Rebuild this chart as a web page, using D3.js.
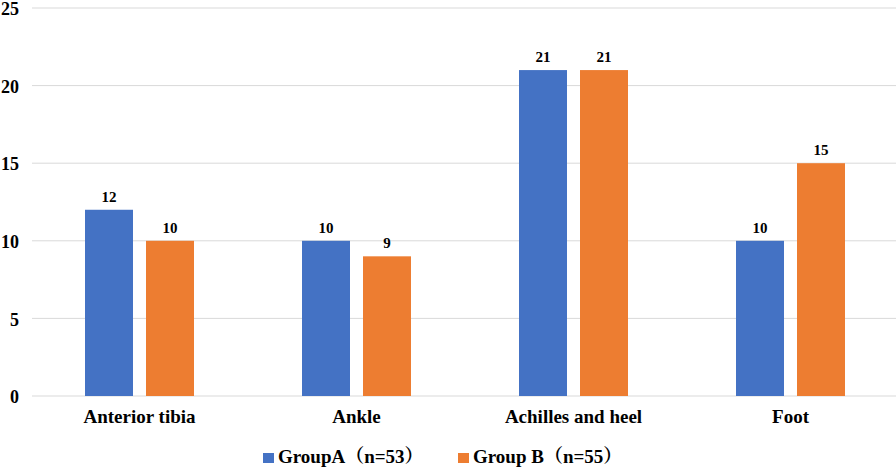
<!DOCTYPE html>
<html><head><meta charset="utf-8">
<script src="https://cdn.jsdelivr.net/npm/d3@7"></script>
<style>body{margin:0;background:#fff}svg{display:block}</style>
</head><body>
<svg id="c" width="896" height="469"></svg>
<script>
const categories = ["Anterior tibia", "Ankle", "Achilles and heel", "Foot"];
const seriesNames = ["GroupA（n=53）", "Group B（n=55）"];
const groupA = [12, 10, 21, 10];
const groupB = [10, 9, 21, 15];
const yTicks = [0, 5, 10, 15, 20, 25];
const colors = ["#4472C4", "#ED7D31"];

const font = "Liberation Serif, Noto Serif CJK SC, serif";
const svg = d3.select("#c");
const x = d3.scaleBand().domain(categories).range([31, 899]);
const y = d3.scaleLinear().domain([0, 25]).range([396, 8]);
const barW = 48, gap = 13;

svg.append("g").selectAll("line").data(yTicks).join("line")
  .attr("x1", 32).attr("x2", 896)
  .attr("y1", d => y(d)).attr("y2", d => y(d))
  .attr("stroke", "#d9d9d9").attr("stroke-width", 1);

svg.append("g").selectAll("text").data(yTicks).join("text")
  .attr("x", 19).attr("y", d => y(d)).attr("dy", "0.4em")
  .attr("text-anchor", "end").style("font-family", font).attr("font-weight", "bold")
  .attr("font-size", 18).text(d => d);

const series = [groupA, groupB];
series.forEach((vals, si) => {
  const g = svg.append("g");
  const off = d => x(d) + x.bandwidth() / 2 - (barW * 2 + gap) / 2 + si * (barW + gap);
  g.selectAll("rect").data(categories).join("rect")
    .attr("x", off).attr("width", barW)
    .attr("y", (d, i) => y(vals[i])).attr("height", (d, i) => y(0) - y(vals[i]))
    .attr("fill", colors[si]);
  g.selectAll("text").data(categories).join("text")
    .attr("x", d => off(d) + barW / 2).attr("y", (d, i) => y(vals[i]) - 8)
    .attr("text-anchor", "middle").style("font-family", font).attr("font-weight", "bold")
    .attr("font-size", 15).text((d, i) => vals[i]);
});

svg.append("g").selectAll("text").data(categories).join("text")
  .attr("x", d => x(d) + x.bandwidth() / 2).attr("y", 423)
  .attr("text-anchor", "middle").style("font-family", font).attr("font-weight", "bold")
  .attr("font-size", 19).text(d => d);

const legX = [263, 458];
const leg = svg.append("g");
seriesNames.forEach((n, i) => {
  leg.append("rect").attr("x", legX[i]).attr("y", 453).attr("width", 11).attr("height", 10).attr("fill", colors[i]);
  leg.append("text").attr("x", legX[i] + 15).attr("y", 463)
    .style("font-family", font).attr("font-weight", "bold").attr("font-size", 19).text(n);
});
</script>
</body></html>
